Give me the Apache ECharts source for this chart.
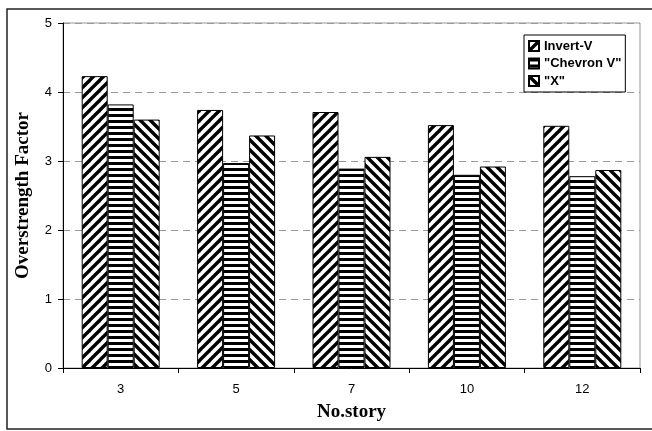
<!DOCTYPE html>
<html>
<head>
<meta charset="utf-8">
<script src="https://cdn.jsdelivr.net/npm/echarts@6/dist/echarts.min.js"></script>
<style>html,body{margin:0;padding:0;background:#fff}#c{width:652px;height:431px}</style>
</head>
<body>
<div id="c"></div>
<script>
const categories = ['3', '5', '7', '10', '12'];
const seriesNames = ['Invert-V', '"Chevron V"', '"X"'];
const invertV = [4.23, 3.74, 3.71, 3.52, 3.51];
const chevronV = [3.82, 2.97, 2.89, 2.80, 2.78];
const xBrace = [3.60, 3.37, 3.06, 2.92, 2.87];
const yTicks = [0, 1, 2, 3, 4, 5];

function diagTile(dir) {
  const P = 10, c = document.createElement('canvas');
  c.width = P; c.height = P;
  const g = c.getContext('2d');
  g.fillStyle = '#fff'; g.fillRect(0, 0, P, P);
  g.strokeStyle = '#000'; g.lineWidth = 3.4; g.lineCap = 'square';
  for (let k = -1; k <= 1; k++) {
    g.beginPath();
    if (dir === '/') { g.moveTo(k * P - 2, P + 2); g.lineTo(k * P + P + 2, -2); }
    else { g.moveTo(k * P - 2, -2); g.lineTo(k * P + P + 2, P + 2); }
    g.stroke();
  }
  return c;
}
function horizTile() {
  const c = document.createElement('canvas');
  c.width = 6; c.height = 6;
  const g = c.getContext('2d');
  g.fillStyle = '#fff'; g.fillRect(0, 0, 6, 6);
  g.fillStyle = '#000'; g.fillRect(0, 0, 6, 3);
  return c;
}
const patterns = [
  { image: diagTile('/'), repeat: 'repeat' },
  { image: horizTile(), repeat: 'repeat' },
  { image: diagTile('\\'), repeat: 'repeat' }
];
const values = [invertV, chevronV, xBrace];

const chart = echarts.init(document.getElementById('c'), null, { renderer: 'canvas' });
chart.setOption({
  animation: false,
  backgroundColor: '#fff',
  graphic: [{
    type: 'rect', z: 100, silent: true,
    shape: { x: 7, y: 9, width: 700, height: 420 },
    style: { fill: 'none', stroke: '#222', lineWidth: 1.5 }
  }],
  grid: { left: 63, right: 12, top: 23, bottom: 63, show: true, borderColor: '#999', borderWidth: 1, backgroundColor: 'transparent' },
  legend: {
    orient: 'vertical', left: 524, top: 35,
    padding: [4, 4, 4, 4], itemGap: 3.5, itemWidth: 10, itemHeight: 10,
    backgroundColor: '#fff', borderColor: '#000', borderWidth: 1,
    icon: 'rect',
    textStyle: { fontFamily: 'Liberation Sans, Arial', fontWeight: 'bold', fontSize: 13, color: '#000', lineHeight: 14 },
    data: seriesNames
  },
  xAxis: {
    type: 'category', data: categories,
    name: 'No.story', nameLocation: 'middle', nameGap: 35,
    nameTextStyle: { fontFamily: 'Liberation Serif, Times New Roman', fontWeight: 'bold', fontSize: 19, color: '#000' },
    axisLine: { lineStyle: { color: '#000', width: 1 } },
    axisTick: { show: true, length: 5, lineStyle: { color: '#000' } },
    axisLabel: { margin: 15, fontFamily: 'Liberation Sans, Arial', fontSize: 13, color: '#000' }
  },
  yAxis: {
    type: 'value', min: yTicks[0], max: yTicks[yTicks.length - 1], interval: 1,
    name: 'Overstrength Factor', nameLocation: 'middle', nameGap: 30,
    nameTextStyle: { fontFamily: 'Liberation Serif, Times New Roman', fontWeight: 'bold', fontSize: 19, color: '#000' },
    axisLine: { show: true, lineStyle: { color: '#000', width: 1 } },
    axisTick: { show: true, length: 5, lineStyle: { color: '#000' } },
    axisLabel: { margin: 11, fontFamily: 'Liberation Sans, Arial', fontSize: 13, color: '#000' },
    splitLine: { show: true, lineStyle: { color: '#999', type: [7, 5], width: 1 } }
  },
  series: seriesNames.map((n, i) => ({
    name: n, type: 'bar', data: values[i],
    barWidth: 26, barGap: '0%',
    itemStyle: { color: patterns[i], borderColor: '#000', borderWidth: 1 },
    emphasis: { disabled: true }
  }))
});
</script>
</body>
</html>
